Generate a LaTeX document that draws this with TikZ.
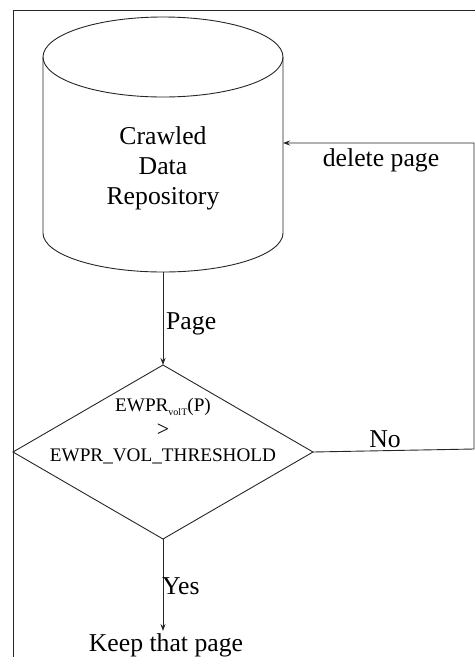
\documentclass[tikz,border=0pt]{standalone}
\usepackage{fontspec}
\setmainfont{Liberation Serif}
\usetikzlibrary{arrows.meta}

\begin{document}
\begin{tikzpicture}[x=1pt,y=-1pt,
    line/.style={draw=black!85,line width=0.9pt},
    flow/.style={line,-{Stealth[length=7pt,width=5pt]}},
    lbl/.style={inner sep=0pt,font=\fontsize{25.7}{30}\selectfont},
    condtext/.style={inner sep=0pt,align=center,font=\fontsize{19.2}{25}\selectfont}]
  \useasboundingbox (0,0) rectangle (475,657);

  % outer frame (left and top edges)
  \draw[line] (13,657) -- (13,10) -- (475,10);

  % repository cylinder
  \draw[line] (43,57) -- (43,233)
     arc[start angle=180,end angle=360,x radius=120pt,y radius=39pt] -- (283,57);
  \draw[line] (163,57) ellipse [x radius=120pt,y radius=40pt];
  \node[lbl,align=center] (repo) at (163,168.5) {Crawled\\Data\\Repository};
  \coordinate (repoB) at (163,272);
  \coordinate (repoR) at (283,143);

  % decision diamond
  \coordinate (condT) at (163,365);
  \coordinate (condR) at (313,452);
  \coordinate (condB) at (163,539);
  \coordinate (condL) at (13,452);
  \draw[line] (condT) -- (condR) -- (condB) -- (condL) -- cycle;
  \node[condtext] (cond) at (163,431)
    {EWPR\raisebox{-4pt}{\fontsize{10}{10}\selectfont volT}(P)\\{\fontsize{22}{22}\selectfont >}\\EWPR\_VOL\_THRESHOLD};

  % outcome
  \node[lbl,inner sep=2pt,anchor=base] (keep) at (166,651) {Keep that page};

  % loop back to the repository
  \coordinate (loopB) at (474,449);
  \coordinate (loopT) at (474,143);

  % connectors
  \draw[flow] (repoB) -- (condT);
  \draw[flow] (condB) -- (condB |- keep.north);
  \draw[flow] (condR) -- (loopB) -- (loopT) -- (repoR);

  % connector labels
  \node[lbl,anchor=base west] (pagelbl) at (166,329) {Page};
  \node[lbl,anchor=base west] (yeslbl) at (162,594) {Yes};
  \node[lbl,anchor=base] (nolbl) at (385,447) {No};
  \node[lbl,anchor=base] (dellbl) at (381,166) {delete page};
\end{tikzpicture}
\end{document}
